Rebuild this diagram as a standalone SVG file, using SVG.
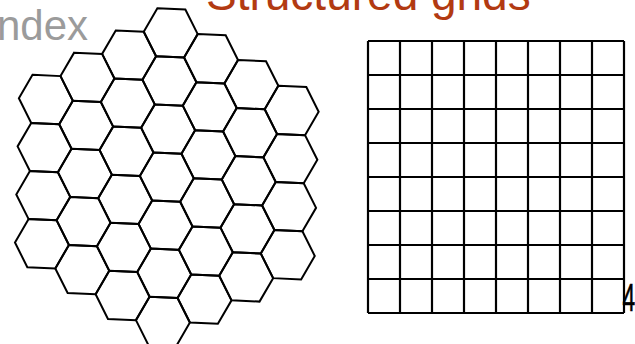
<svg xmlns="http://www.w3.org/2000/svg" xmlns:xlink="http://www.w3.org/1999/xlink" width="635" height="344" viewBox="0 0 635 344">
  <style>
    .hx { fill: none; stroke: #000; stroke-width: 2; vector-effect: non-scaling-stroke; stroke-linejoin: miter; }
    .grid { fill: none; stroke: #000; stroke-width: 2.2; }
    .title { font-family: "Liberation Sans", Arial, sans-serif; font-size: 46px; fill: #B23A12; }
    .side { font-family: "Liberation Sans", Arial, sans-serif; font-size: 42px; fill: #9B9B9B; }
    .num { font-family: "Liberation Sans", Arial, sans-serif; font-size: 38px; fill: #000; stroke: #000; stroke-width: 0.6; }
  </style>
  <defs>
    <path id="h" class="hx" d="M0,0 H0.683 L1,0.5 L0.683,1 H0 L-0.317,0.5 Z"/>
  </defs>
  <rect width="635" height="344" fill="#fff"/>

  <g id="title">
    <text class="title" x="206" y="10">Structured grids</text>
  </g>
  <g id="side-label">
    <text class="side" x="-3" y="39.5">ndex</text>
  </g>

  <g id="hex-mesh" transform="matrix(40.97 1.83 -1.3 48.08 34.47 2.73)">
    <use xlink:href="#h" x="0" y="1.5"/><use xlink:href="#h" x="0" y="2.5"/><use xlink:href="#h" x="0" y="3.5"/><use xlink:href="#h" x="0" y="4.5"/>
    <use xlink:href="#h" x="1" y="1"/><use xlink:href="#h" x="1" y="2"/><use xlink:href="#h" x="1" y="3"/><use xlink:href="#h" x="1" y="4"/><use xlink:href="#h" x="1" y="5"/>
    <use xlink:href="#h" x="2" y="0.5"/><use xlink:href="#h" x="2" y="1.5"/><use xlink:href="#h" x="2" y="2.5"/><use xlink:href="#h" x="2" y="3.5"/><use xlink:href="#h" x="2" y="4.5"/><use xlink:href="#h" x="2" y="5.5"/>
    <use xlink:href="#h" x="3" y="0"/><use xlink:href="#h" x="3" y="1"/><use xlink:href="#h" x="3" y="2"/><use xlink:href="#h" x="3" y="3"/><use xlink:href="#h" x="3" y="4"/><use xlink:href="#h" x="3" y="5"/><use xlink:href="#h" x="3" y="6"/>
    <use xlink:href="#h" x="4" y="0.5"/><use xlink:href="#h" x="4" y="1.5"/><use xlink:href="#h" x="4" y="2.5"/><use xlink:href="#h" x="4" y="3.5"/><use xlink:href="#h" x="4" y="4.5"/><use xlink:href="#h" x="4" y="5.5"/>
    <use xlink:href="#h" x="5" y="1"/><use xlink:href="#h" x="5" y="2"/><use xlink:href="#h" x="5" y="3"/><use xlink:href="#h" x="5" y="4"/><use xlink:href="#h" x="5" y="5"/>
    <use xlink:href="#h" x="6" y="1.5"/><use xlink:href="#h" x="6" y="2.5"/><use xlink:href="#h" x="6" y="3.5"/><use xlink:href="#h" x="6" y="4.5"/>
  </g>

  <g id="structured-grid">
    <path class="grid" d="M368,41 H624 M368,75 H624 M368,109 H624 M368,143 H624 M368,177 H624 M368,211 H624 M368,245 H624 M368,279 H624 M368,313 H624 M368,41 V313 M400,41 V313 M432,41 V313 M464,41 V313 M496,41 V313 M528,41 V313 M560,41 V313 M592,41 V313 M624,41 V313"/>
  </g>

  <g id="page-number">
    <text class="num" transform="translate(622.5,311) scale(0.6,1)" x="0" y="0">4</text>
  </g>
</svg>
